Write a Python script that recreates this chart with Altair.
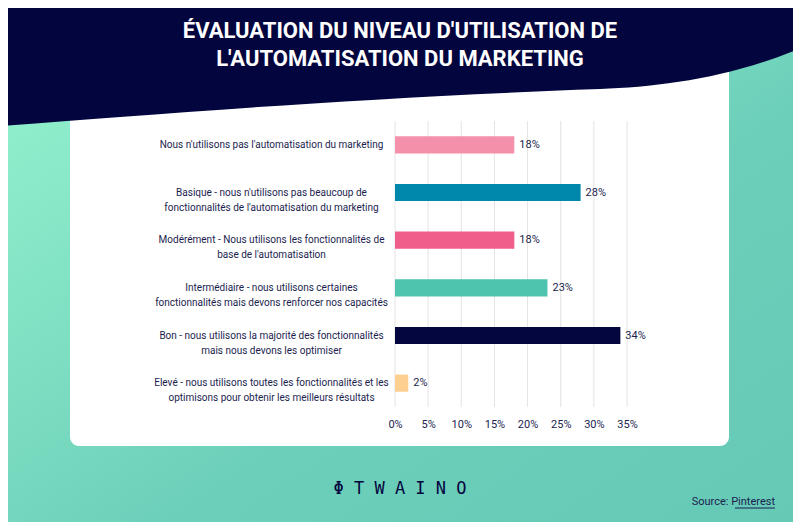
import altair as alt
import pandas as pd

# ---------------- data ----------------
categories = [
    "Nous n'utilisons pas l'automatisation du marketing",
    "Basique - nous n'utilisons pas beaucoup de|fonctionnalités de l'automatisation du marketing",
    "Modérément - Nous utilisons les fonctionnalités de|base de l'automatisation",
    "Intermédiaire - nous utilisons certaines|fonctionnalités mais devons renforcer nos capacités",
    "Bon - nous utilisons la majorité des fonctionnalités|mais nous devons les optimiser",
    "Elevé - nous utilisons toutes les fonctionnalités et les|optimisons pour obtenir les meilleurs résultats",
]
values = [18, 28, 18, 23, 34, 2]
bar_colors = ["#f590ab", "#0088ac", "#f05e8c", "#4ec3ae", "#03063f", "#fdcf91"]
tick_values = [0, 5, 10, 15, 20, 25, 30, 35]
title_lines = ["ÉVALUATION DU NIVEAU D'UTILISATION DE", "L'AUTOMATISATION DU MARKETING"]
logo_text = "Φ T W A I N O"
source_text = "Source:  Pinterest"

df = pd.DataFrame({"label": categories, "value": values,
                   "pct": [f"{v}%" for v in values]})
ticks_df = pd.DataFrame({"value": tick_values})
one = pd.DataFrame({"a": [1]})

# ---------------- styling ----------------
NAVY = "#03053e"
TEXT = "#1b1e4f"
FONT = "Roboto"

# page coordinates of the plot origin (the page has an 8px margin)
OX, OY = 395, 121
W, H = 232, 286
TOTAL_W, TOTAL_H = 785, 514


def px(x):
    return x - OX


def py(y):
    return y - OY


# header wave as a custom symbol path (unit square scaled by sqrt(size)/2)
HALF = 400.5
wave_pts = "M0,126 C150,115 350,98 600,89 C660,87 730,78 801,48 L801,-20 L0,-20 Z"


def to_unit(path):
    out = []
    for tok in path.split(" "):
        cmd = ""
        if tok[0].isalpha():
            cmd, tok = tok[0], tok[1:]
        if tok:
            xs, ys = tok.split(",")
            out.append(f"{cmd}{(float(xs) - HALF) / HALF:.5f},{float(ys) / HALF:.5f}")
        else:
            out.append(cmd)
    return " ".join(out)


wave_path = to_unit(wave_pts)

bg = alt.Chart(one).mark_rect(
    color=alt.LinearGradient(
        gradient="linear",
        stops=[alt.GradientStop(color="#98f6d0", offset=0),
               alt.GradientStop(color="#6ccfb9", offset=0.6),
               alt.GradientStop(color="#66c9b6", offset=1)],
        x1=0, y1=0, x2=1, y2=1,
    )
).encode(x=alt.value(px(0)), x2=alt.value(px(801)),
         y=alt.value(py(0)), y2=alt.value(py(530)))

card = alt.Chart(one).mark_rect(color="white", cornerRadius=9).encode(
    x=alt.value(px(70)), x2=alt.value(px(729)),
    y=alt.value(py(60)), y2=alt.value(py(446)))

header = alt.Chart(one).mark_point(
    shape=wave_path, filled=True, size=(2 * HALF) ** 2,
    color=NAVY, opacity=1, strokeWidth=0
).encode(x=alt.value(px(HALF)), y=alt.value(py(0)))

title = alt.Chart(one).mark_text(
    text=title_lines, font=FONT, fontSize=22, fontWeight="bold",
    color="white", align="center", baseline="middle", lineHeight=28
).encode(x=alt.value(px(400)), y=alt.value(py(31)))

x_axis = alt.Axis(values=tick_values, labelExpr="datum.value + '%'",
                  grid=False, ticks=False, tickSize=0, domain=False,
                  labelOverlap=False, labelFlush=False, labelPadding=11,
                  labelFont=FONT, labelFontSize=11, labelColor=TEXT, zindex=1)
x_scale = alt.Scale(domain=[0, 35], nice=False)
x_enc = alt.X("value:Q", title=None, scale=x_scale, axis=x_axis)

y_axis = alt.Axis(labelExpr="split(datum.label, '|')", labelFont=FONT,
                  labelFontSize=10, labelColor=TEXT, labelAlign="center",
                  labelPadding=OX - 271, ticks=False, domain=False,
                  labelLimit=400, labelLineHeight=15, zindex=1)
y_scale = alt.Scale(paddingInner=0.64, paddingOuter=0.32)
y_enc = alt.Y("label:N", sort=categories, title=None, scale=y_scale, axis=y_axis)

grid = alt.Chart(ticks_df).mark_rule(color="#e3e3e3", strokeWidth=1).encode(
    x=x_enc)

bars = alt.Chart(df).mark_bar().encode(
    y=y_enc, x=x_enc,
    color=alt.Color("label:N", scale=alt.Scale(domain=categories, range=bar_colors),
                    legend=None))

pct = alt.Chart(df).mark_text(
    align="left", baseline="middle", dx=5, font=FONT, fontSize=11, color=TEXT
).encode(y=y_enc, x=x_enc, text="pct:N")

logo = alt.Chart(one).mark_text(
    text=logo_text, font="DejaVu Sans Mono", fontSize=17, color=NAVY,
    align="center", baseline="middle"
).encode(x=alt.value(px(400)), y=alt.value(py(489)))

source = alt.Chart(one).mark_text(
    text=source_text, font=FONT, fontSize=11, color=TEXT,
    align="right", baseline="middle"
).encode(x=alt.value(px(775)), y=alt.value(py(502)))

underline = alt.Chart(one).mark_rule(color=TEXT, strokeWidth=1).encode(
    x=alt.value(px(735)), x2=alt.value(px(775)), y=alt.value(py(508)))

chart = alt.layer(
    bg, card, header, title, grid, bars, pct, logo, source, underline
).properties(
    width=W, height=H,
    padding={"left": OX - 8, "top": OY - 8,
             "right": TOTAL_W - (OX - 8) - W, "bottom": TOTAL_H - (OY - 8) - H},
    autosize=alt.AutoSizeParams(type="none"),
).configure_view(stroke=None)

chart.save("out.html", embed_options={"renderer": "svg", "actions": False})
